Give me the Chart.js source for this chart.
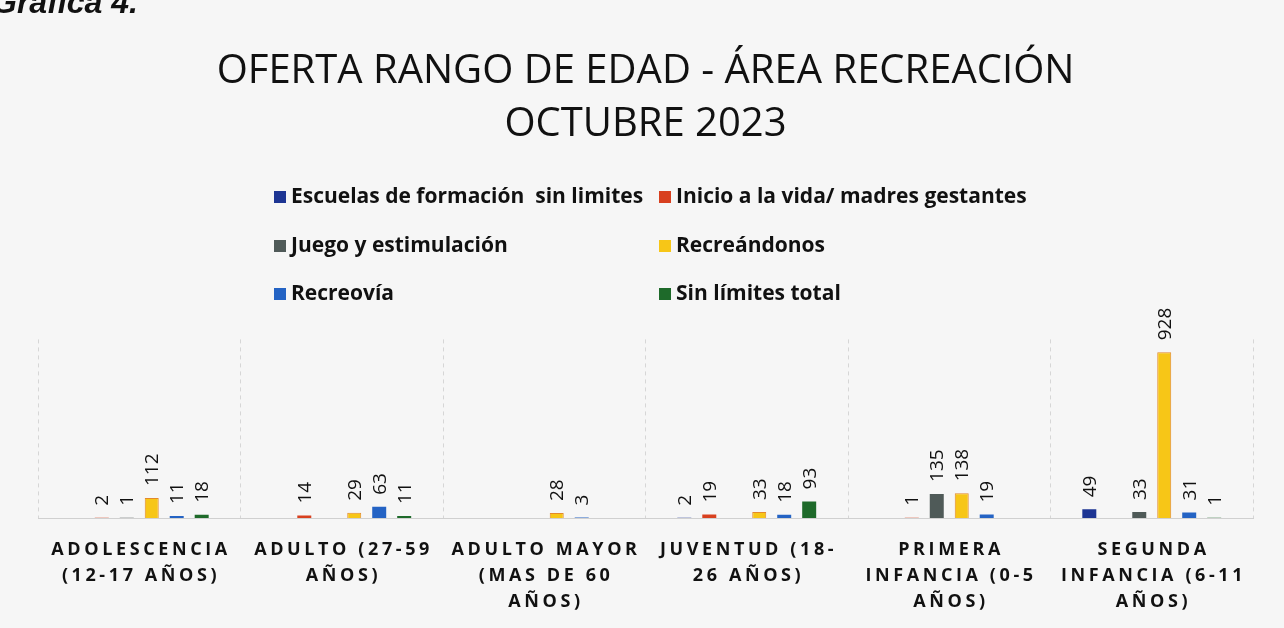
<!DOCTYPE html>
<html lang="es">
<head>
<meta charset="utf-8">
<title>Oferta rango de edad - Área Recreación</title>
<script src="https://cdn.jsdelivr.net/npm/chart.js@4.4.1/dist/chart.umd.min.js"></script>
<style>
    html, body { margin: 0; padding: 0; background: #f6f6f6; }
    #wrap { width: 1284px; height: 628px; }
</style>
</head>
<body>
<div id="wrap"><canvas id="chart" width="1284" height="628"></canvas></div>
<script>
// ===== DATA =====
const categories = [
    ['ADOLESCENCIA', '(12-17 AÑOS)'],
    ['ADULTO (27-59', 'AÑOS)'],
    ['ADULTO MAYOR', '(MAS DE 60', 'AÑOS)'],
    ['JUVENTUD (18-', '26 AÑOS)'],
    ['PRIMERA', 'INFANCIA (0-5', 'AÑOS)'],
    ['SEGUNDA', 'INFANCIA (6-11', 'AÑOS)'],
];

const escuelas = [null, null, null, 2, null, 49];
const inicio = [2, 14, null, 19, 1, null];
const juego = [1, null, null, null, 135, 33];
const recreandonos = [112, 29, 28, 33, 138, 928];
const recreovia = [11, 63, 3, 18, 19, 31];
const sinLimites = [18, 11, null, 93, null, 1];

const seriesNames = [
    'Escuelas de formación  sin limites',
    'Inicio a la vida/ madres gestantes',
    'Juego y estimulación',
    'Recreándonos',
    'Recreovía',
    'Sin límites total',
];

const FONT = '"Open Sans", "Noto Sans", sans-serif';

// ===== PLUGINS =====
const bgPlugin = {
    id: 'bg',
    beforeDraw(chart) {
        const { ctx } = chart;
        ctx.save();
        ctx.fillStyle = '#f6f6f6';
        ctx.fillRect(0, 0, chart.width, chart.height);
        // caption cut at the top of the photo
        ctx.fillStyle = '#111';
        ctx.font = 'italic bold 32px "Liberation Sans", sans-serif';
        ctx.textBaseline = 'alphabetic';
        ctx.fillText('Gráfica 4.', -8, 13);
        ctx.restore();
    },
};

const valueLabels = {
    id: 'valueLabels',
    afterDatasetsDraw(chart) {
        const { ctx } = chart;
        ctx.save();
        ctx.font = '19px ' + FONT;
        ctx.fillStyle = '#111';
        ctx.textAlign = 'left';
        ctx.textBaseline = 'middle';
        chart.data.datasets.forEach((ds, di) => {
            const meta = chart.getDatasetMeta(di);
            meta.data.forEach((bar, i) => {
                const v = ds.data[i];
                if (v === null || v === undefined) return;
                ctx.save();
                ctx.translate(bar.x + 1, bar.y - 12);
                ctx.rotate(-Math.PI / 2);
                ctx.fillText(String(v), 0, 0);
                ctx.restore();
            });
        });
        ctx.restore();
    },
};

const customLegend = {
    id: 'customLegend',
    afterDraw(chart) {
        const { ctx } = chart;
        const cols = [274, 659];
        const rows = [197, 246, 294];
        ctx.save();
        ctx.font = 'bold 21px ' + FONT;
        ctx.textBaseline = 'middle';
        ctx.textAlign = 'left';
        chart.data.datasets.forEach((ds, i) => {
            const x = cols[i % 2];
            const y = rows[Math.floor(i / 2)];
            ctx.fillStyle = ds.backgroundColor;
            ctx.fillRect(x, y - 6, 12, 12);
            ctx.fillStyle = '#111';
            ctx.fillText(ds.label, x + 17, y);
        });
        ctx.restore();
    },
};

const xLabels = {
    id: 'xLabels',
    afterDraw(chart) {
        const { ctx, chartArea } = chart;
        const xs = chart.scales.x;
        const spacing = 3.6;
        ctx.save();
        ctx.font = 'bold 18px ' + FONT;
        ctx.letterSpacing = spacing + 'px';
        ctx.fillStyle = '#111';
        ctx.textAlign = 'center';
        ctx.textBaseline = 'middle';
        chart.data.labels.forEach((lines, i) => {
            const x = xs.getPixelForValue(i) + spacing / 2;
            lines.forEach((line, li) => {
                ctx.fillText(line, x, chartArea.bottom + 32 + li * 26);
            });
        });
        ctx.restore();
    },
};

// ===== CHART =====
function makeSet(label, data, bg, border) {
    return {
        label,
        data,
        backgroundColor: bg,
        borderColor: border || bg,
        borderWidth: border ? 1 : 0,
        categoryPercentage: 0.74,
        barPercentage: 0.56,
    };
}

const ctx = document.getElementById('chart').getContext('2d');
const chart = new Chart(ctx, {
    type: 'bar',
    data: {
        labels: categories,
        datasets: [
            makeSet(seriesNames[0], escuelas, '#1d3593'),
            makeSet(seriesNames[1], inicio, '#d8401f'),
            makeSet(seriesNames[2], juego, '#4f5a58'),
            makeSet(seriesNames[3], recreandonos, '#f7c617', '#e3892a'),
            makeSet(seriesNames[4], recreovia, '#2463c4'),
            makeSet(seriesNames[5], sinLimites, '#1e6a2a'),
        ],
    },
    options: {
        responsive: false,
        animation: false,
        layout: { padding: { left: 38, right: 31, top: 0, bottom: 110 } },
        plugins: {
            legend: { display: false },
            tooltip: { enabled: false },
            title: {
                display: true,
                text: ['OFERTA RANGO DE EDAD - ÁREA RECREACIÓN', 'OCTUBRE 2023'],
                color: '#111',
                font: { family: FONT, size: 40, weight: 500, lineHeight: 1.33 },
                padding: { top: 45, bottom: 188 },
            },
        },
        scales: {
            x: {
                grid: {
                    display: true,
                    color: '#d6d6d6',
                    drawTicks: false,
                },
                border: { display: true, color: '#d0d0d0', dash: [4, 4] },
                ticks: { display: false },
            },
            y: {
                display: false,
                min: 0,
                max: 1000,
            },
        },
    },
    plugins: [bgPlugin, valueLabels, customLegend, xLabels],
});
</script>
</body>
</html>
